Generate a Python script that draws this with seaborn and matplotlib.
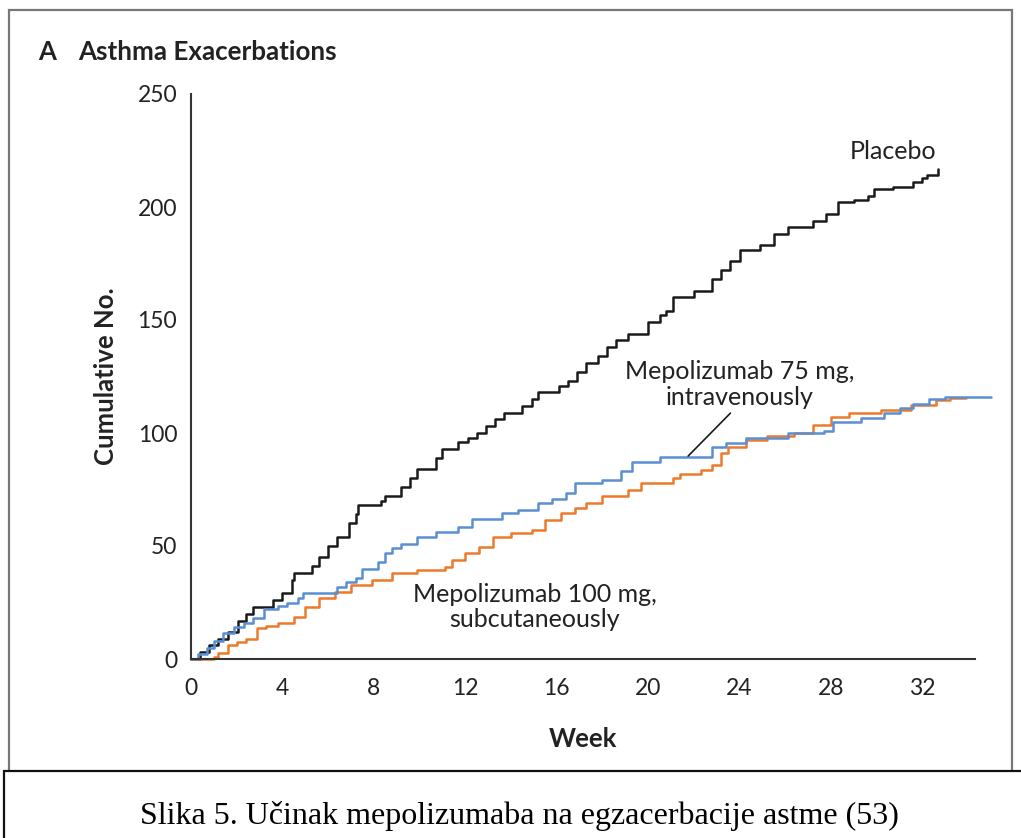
import pandas as pd
import matplotlib.pyplot as plt
import seaborn as sns
from matplotlib.patches import Rectangle

# cumulative exacerbations (week, count)
placebo_week = [0, 0.4, 0.8, 1.2, 1.6, 2.06, 2.4, 2.7, 3.6, 4.0, 4.4, 4.5, 5.3, 5.6, 6.0,
                6.4, 6.9, 7.2, 7.3, 8.3, 8.5, 9.2, 9.6, 9.9, 10.7, 11.0, 11.7, 12.1, 12.5,
                12.9, 13.3, 13.7, 14.5, 14.9, 15.2, 16.1, 16.5, 16.9, 17.3, 17.8, 18.2,
                18.6, 19.1, 20.0, 20.5, 20.8, 21.1, 22.0, 22.8, 23.2, 23.6, 24.0, 24.9,
                25.5, 26.1, 27.2, 27.8, 28.3, 29.0, 29.6, 29.9, 30.7, 31.6, 32.0, 32.2, 32.7]
placebo_count = [0, 3, 6, 9, 12, 17, 20, 23, 26, 29, 35, 38, 41, 45, 50,
                 54, 60, 64, 68, 70, 72, 76, 80, 84, 89, 93, 96, 98, 100,
                 103, 106, 109, 112, 115, 118, 121, 123, 127, 131, 134, 138,
                 141, 144, 149, 152, 154, 160, 163, 168, 172, 176, 181, 183,
                 188, 191, 194, 197, 202, 203, 205, 208, 209, 211, 213, 214, 217]

iv75_week = [0, 0.3, 0.7, 1.0, 1.4, 1.9, 2.3, 2.7, 3.2, 3.8, 4.2, 4.7, 4.9, 6.4, 6.8,
             7.2, 7.5, 8.2, 8.5, 8.8, 9.2, 9.9, 10.7, 11.7, 12.3, 13.6, 14.3, 15.2, 15.8,
             16.4, 16.8, 18.0, 18.8, 19.3, 20.5, 22.8, 23.4, 24.3, 26.1, 27.7, 28.1,
             29.3, 30.3, 31.0, 31.6, 32.3, 33.0, 35.0]
iv75_count = [0, 2, 5, 8, 11.5, 14, 16, 18, 22, 23.5, 25, 27, 29, 32, 34,
              36, 40, 43, 47, 49, 51, 54, 56, 58.5, 62, 64.5, 66, 69, 71,
              73.5, 78, 79, 83, 87, 89.5, 94, 95.7, 98, 100, 101, 105,
              106.6, 109, 111, 113, 115, 116, 116]

sc100_week = [0, 0.7, 1.0, 1.2, 1.6, 2.0, 2.4, 2.9, 3.3, 3.8, 4.5, 5.0, 5.6, 6.3, 7.0,
              7.9, 8.8, 9.9, 11.1, 11.4, 12.0, 12.6, 13.2, 14.0, 14.9, 15.5, 16.2, 16.8,
              17.3, 18.0, 19.1, 19.7, 21.1, 21.4, 22.3, 22.8, 23.2, 23.5, 24.3, 25.2,
              26.4, 27.2, 28.0, 28.8, 30.2, 31.5, 32.6, 33.2, 33.9]
sc100_count = [0, 0, 1, 2.5, 6, 7.5, 9, 13.6, 14.5, 16, 18.7, 23, 27, 29.7, 32.7,
               35, 38, 39.4, 40.7, 43.8, 47, 49.6, 54, 55.8, 57, 61.5, 64.6, 67,
               69, 72, 75, 78, 80, 82, 83.6, 86, 91, 94, 97, 98.5,
               100, 103.5, 107, 109, 110, 112.6, 114.6, 115.5, 115.5]

x_ticks = [0, 4, 8, 12, 16, 20, 24, 28, 32]
y_ticks = [0, 50, 100, 150, 200, 250]

sns.set_style('white')
plt.rcParams['font.family'] = ['Lato', 'DejaVu Sans']

fig = plt.figure(figsize=(10.21, 8.38), dpi=100)
ax = fig.add_axes([191 / 1021, 1 - 659 / 838, 800 / 1021, 565 / 838])

sns.lineplot(x=placebo_week, y=placebo_count, ax=ax, color='#1a1a1a', lw=1.8,
             drawstyle='steps-post', clip_on=False)
sns.lineplot(x=sc100_week, y=sc100_count, ax=ax, color='#ec7a2a', lw=1.8,
             drawstyle='steps-post', clip_on=False)
sns.lineplot(x=iv75_week, y=iv75_count, ax=ax, color='#5b8fd1', lw=1.8,
             drawstyle='steps-post', clip_on=False)

ax.set_xlim(0, 35)
ax.set_ylim(0, 250)
ax.set_xticks(x_ticks)
ax.set_yticks(y_ticks)
sns.despine(ax=ax)
ax.spines['bottom'].set_bounds(0, 34.3)
for s in ['left', 'bottom']:
    ax.spines[s].set_color('#333333')
    ax.spines[s].set_linewidth(1.5)
ax.tick_params(axis='both', length=8, width=1.5, color='#333333',
               labelsize=16.5, labelcolor='#222222', direction='out')
ax.tick_params(axis='y', pad=2)
ax.tick_params(axis='x', pad=6)

ax.set_xlabel('Week', fontsize=18.5, fontweight='bold', color='#222222')
ax.xaxis.set_label_coords(17.15 / 35, -0.12)
ax.set_ylabel('Cumulative No.', fontsize=18.5, fontweight='bold', color='#222222', labelpad=14)

# curve labels
ax.text(30.7, 224.5, 'Placebo', fontsize=18, ha='center', va='center', color='#222222')
ax.text(24.0, 121.5, 'Mepolizumab 75 mg,\nintravenously', fontsize=18, ha='center',
        va='center', color='#222222', linespacing=1.15)
ax.plot([23.6, 21.75], [108.8, 89.8], color='#1a1a1a', lw=1.2)
ax.text(15.05, 23, 'Mepolizumab 100 mg,\nsubcutaneously', fontsize=18, ha='center',
        va='center', color='#222222', linespacing=1.15)

fig.text(38 / 1021, 1 - 52 / 838, 'A', fontsize=18.5, fontweight='bold', va='center',
         color='#222222')
fig.text(78 / 1021, 1 - 52 / 838, 'Asthma Exacerbations', fontsize=18.7, fontweight='bold',
         va='center', color='#222222')

# outer grey frame and caption box
fig.patches.append(Rectangle((9 / 1021, 1 - 780 / 838), 1003 / 1021, 770 / 838,
                             transform=fig.transFigure, fill=False, ec='#777777', lw=1.6))
fig.patches.append(Rectangle((4 / 1021, -0.01), 1.1, 1 - 771 / 838 + 0.01,
                             transform=fig.transFigure, fc='white', ec='#111111', lw=1.6))
fig.text(519 / 1021, 1 - 816 / 838, 'Slika 5. Učinak mepolizumaba na egzacerbacije astme (53)',
         fontsize=23, family='Liberation Serif', ha='center', va='center', color='black')

fig.savefig('out.png', dpi=100)
